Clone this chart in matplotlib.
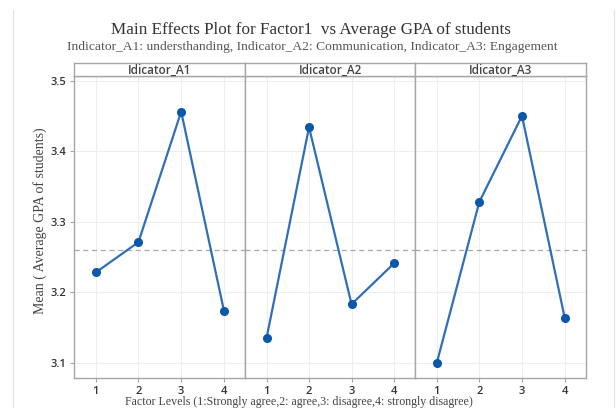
import matplotlib
matplotlib.use("Agg")
import matplotlib.pyplot as plt
from matplotlib.lines import Line2D

levels = [1, 2, 3, 4]
panels = ["Idicator_A1", "Idicator_A2", "Idicator_A3"]
means_a1 = [3.228, 3.271, 3.456, 3.174]
means_a2 = [3.135, 3.434, 3.183, 3.241]
means_a3 = [3.099, 3.328, 3.450, 3.164]
overall_mean = 3.260
yticks = [3.1, 3.2, 3.3, 3.4, 3.5]

series = [means_a1, means_a2, means_a3]

W, H = 616, 408
fig = plt.figure(figsize=(W / 100, H / 100), dpi=100)

def fx(px):
    return px / W

def fy(py):
    return 1 - py / H

edges = [74.3, 245.3, 415.3, 586.0]
top_plot, bot_plot, top_strip = 75.7, 378.3, 62.7
border = "#A6A6A6"
grid = "#EEEEEE"
line_c = "#2F6FB8"
mark_c = "#0B57A8"
tick_c = "#333333"

axes = []
for i in range(3):
    x0, x1 = edges[i], edges[i + 1]
    ax = fig.add_axes([fx(x0), fy(bot_plot), fx(x1 - x0), (bot_plot - top_plot) / H])
    ax.plot(levels, series[i], color=line_c, lw=1.6, marker="o", ms=5.5,
            mfc=mark_c, mec=mark_c, zorder=3)
    ax.axhline(overall_mean, color="#A8A8A8", lw=0.9, ls=(0, (4, 3)), zorder=2)
    ax.set_xlim(0.5, 4.5)
    ax.set_ylim(3.078, 3.507)
    ax.set_xticks(levels)
    ax.set_xticklabels([str(v) for v in levels])
    ax.set_yticks(yticks)
    ax.grid(True, color=grid, lw=0.8, zorder=0)
    ax.set_axisbelow(True)
    for s in ax.spines.values():
        s.set_color(border)
        s.set_linewidth(1.0)
    ax.tick_params(axis="both", colors=border, labelcolor=tick_c, length=3, width=0.8,
                   labelsize=8, pad=2.5)
    for lab in ax.get_xticklabels() + ax.get_yticklabels():
        lab.set_fontfamily("Open Sans")
        lab.set_fontweight("semibold")
    if i > 0:
        ax.tick_params(axis="y", left=False, labelleft=False)
    # strip
    sax = fig.add_axes([fx(x0), fy(top_plot), fx(x1 - x0), (top_plot - top_strip) / H])
    sax.set_xticks([])
    sax.set_yticks([])
    for s in sax.spines.values():
        s.set_color(border)
        s.set_linewidth(1.0)
    sax.text(0.5, 0.45, panels[i], ha="center", va="center", fontsize=8.5,
             color="#444444", family="Open Sans", fontweight="semibold",
             transform=sax.transAxes)
    axes.append(ax)

fig.text(fx(311), fy(30), "Main Effects Plot for Factor1  vs Average GPA of students",
         ha="center", va="center", fontsize=12.3, family="Liberation Serif", color="#333333")
fig.text(fx(312), fy(47), "Indicator_A1: understhanding, Indicator_A2: Communication, Indicator_A3: Engagement",
         ha="center", va="center", fontsize=9.7, family="Liberation Serif", color="#555555")
fig.text(fx(40), fy(221), "Mean ( Average GPA of students)", rotation=90,
         ha="center", va="center", fontsize=10, family="Liberation Serif", color="#444444")
fig.text(fx(299), fy(405.5), "Factor Levels (1:Strongly agree,2: agree,3: disagree,4: strongly disagree)",
         ha="center", va="baseline", fontsize=8.6, family="Liberation Serif", color="#444444")

fig.add_artist(Line2D([fx(12.7), fx(12.7)], [fy(10), 0], color="#E2E2E2", lw=0.8))
fig.add_artist(Line2D([fx(614), fx(614)], [fy(10), 0], color="#E2E2E2", lw=0.8))

fig.savefig("out.png", dpi=100)
